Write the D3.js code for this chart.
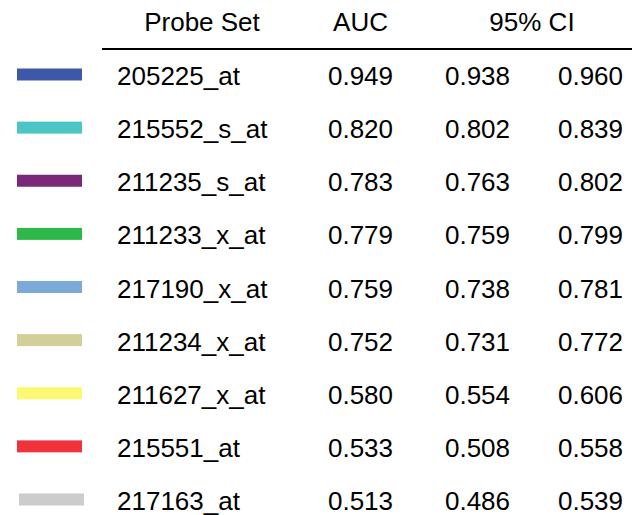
<!DOCTYPE html>
<meta charset='utf-8'>
<style>
body { margin: 0; background: #fff; }
text {
  font-family: 'Liberation Sans', Arial, sans-serif;
  font-size: 26px;
  fill: #000;
}
</style>
<svg width='632' height='515'></svg>
<script src='https://d3js.org/d3.v7.min.js'></script>
<script>

var probes = ['205225_at', '215552_s_at', '211235_s_at', '211233_x_at', '217190_x_at',
              '211234_x_at', '211627_x_at', '215551_at', '217163_at'];
var auc   = [0.949, 0.820, 0.783, 0.779, 0.759, 0.752, 0.580, 0.533, 0.513];
var ciLow = [0.938, 0.802, 0.763, 0.759, 0.738, 0.731, 0.554, 0.508, 0.486];
var ciHigh = [0.960, 0.839, 0.802, 0.799, 0.781, 0.772, 0.606, 0.558, 0.539];
var colors = ['#3f57a8', '#4cc5c6', '#7a287a', '#2eb84a', '#7baad9',
              '#d3cf98', '#fbf872', '#f0333a', '#cccccc'];
var headers = ['Probe Set', 'AUC', '95% CI'];

var svg = d3.select('svg');
var fmt = d3.format('.3f');

// row baselines
var y = d3.scalePoint()
    .domain(d3.range(probes.length))
    .range([85, 510]);

// header
svg.append('text')
    .attr('x', 202).attr('y', 31)
    .attr('text-anchor', 'middle')
    .text(headers[0]);
svg.append('text')
    .attr('x', 360.5).attr('y', 31)
    .attr('text-anchor', 'middle')
    .text(headers[1]);
svg.append('text')
    .attr('x', 532).attr('y', 31)
    .attr('text-anchor', 'middle')
    .text(headers[2]);

svg.append('line')
    .attr('x1', 102).attr('x2', 632)
    .attr('y1', 49).attr('y2', 49)
    .attr('stroke', '#000')
    .attr('stroke-width', 2);

var row = svg.selectAll('.row')
    .data(probes)
  .enter().append('g')
    .attr('class', 'row');

// colour swatches, the last one sits a touch to the right
row.append('rect')
    .attr('x', function(d, i) { return i === probes.length - 1 ? 19 : 17; })
    .attr('y', function(d, i) { return y(i) - 16.5; })
    .attr('width', 65)
    .attr('height', 12)
    .attr('fill', function(d, i) { return colors[i]; });

row.append('text')
    .attr('x', 117)
    .attr('y', function(d, i) { return y(i); })
    .text(function(d) { return d; });

row.append('text')
    .attr('x', 360.5)
    .attr('y', function(d, i) { return y(i); })
    .attr('text-anchor', 'middle')
    .text(function(d, i) { return fmt(auc[i]); });

row.append('text')
    .attr('x', 477.5)
    .attr('y', function(d, i) { return y(i); })
    .attr('text-anchor', 'middle')
    .text(function(d, i) { return fmt(ciLow[i]); });

row.append('text')
    .attr('x', 590.5)
    .attr('y', function(d, i) { return y(i); })
    .attr('text-anchor', 'middle')
    .text(function(d, i) { return fmt(ciHigh[i]); });

</script>
